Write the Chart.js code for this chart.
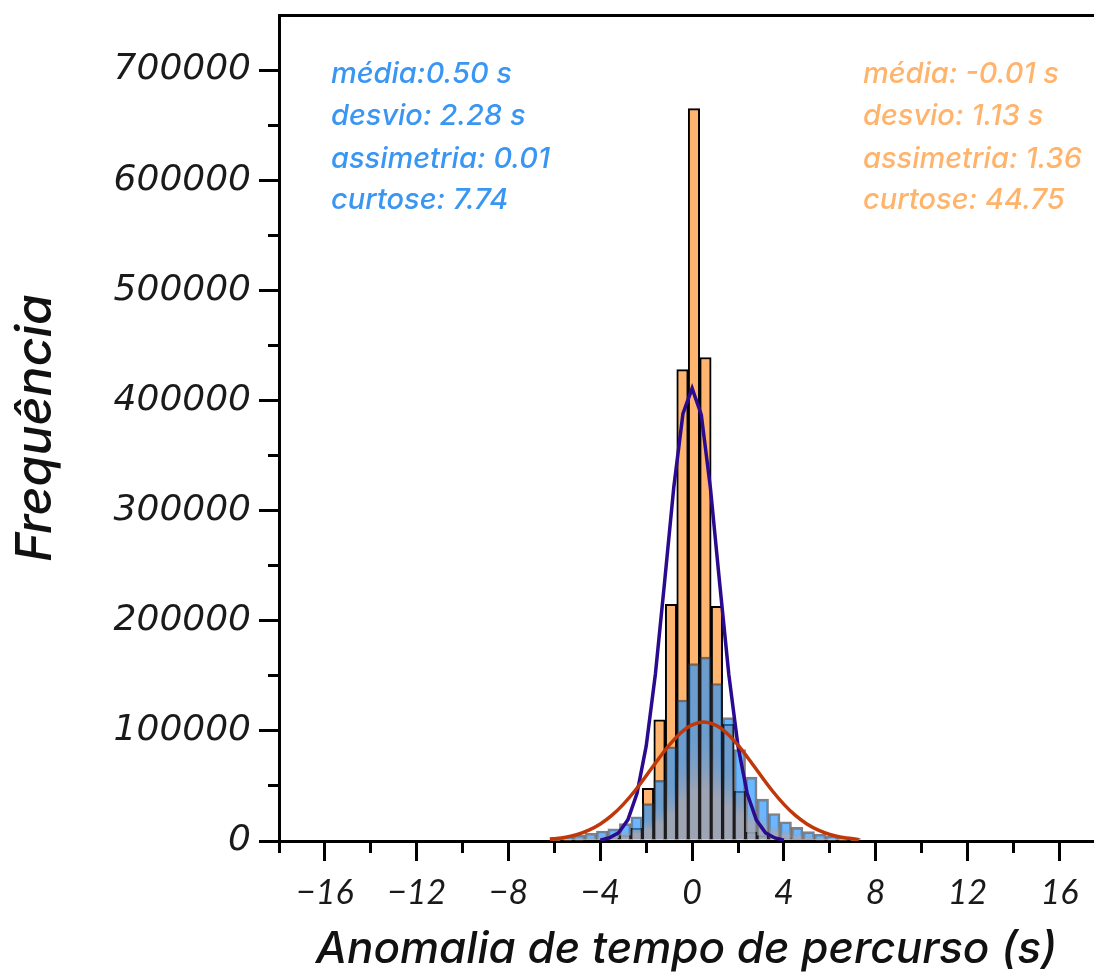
<!DOCTYPE html>
<html lang="pt">
<head>
  <meta charset="UTF-8" />
  <title>Anomalia de tempo de percurso</title>
  <script src="https://cdn.jsdelivr.net/npm/chart.js"></script>
  <style>
    html, body { margin: 0; padding: 0; background: #fff; }
    #wrap { width: 1094px; height: 976px; }
  </style>
</head>
<body>
  <div id="wrap">
    <canvas id="histChart" width="1094" height="976"></canvas>
  </div>

  <script>
    // bin centres (s), bins are 0.5 s wide
    const binCenters = [-5.92, -5.42, -4.92, -4.42, -3.92, -3.42, -2.92, -2.42, -1.92, -1.42,
      -0.92, -0.42, 0.08, 0.58, 1.08, 1.58, 2.08, 2.58, 3.08, 3.58,
      4.08, 4.58, 5.08, 5.58, 6.08, 6.58, 7.08];

    // blue histogram counts
    const blueCounts = [3400, 3900, 5400, 7000, 9100, 11000, 15800, 22000, 34000, 55000,
      85600, 128000, 161000, 167000, 143000, 112000, 83000, 58000, 38000, 25000,
      17500, 12400, 8500, 6300, 4500, 3300, 2400];

    // orange histogram counts
    const orangeCounts = [300, 400, 600, 900, 1500, 2500, 5000, 11500, 47800, 110000,
      215000, 428000, 665000, 439000, 213000, 106000, 45000, 8000, 5000, 3000,
      2000, 1500, 1000, 700, 500, 400, 300];

    // red curve (fit of blue histogram)
    const redX = [-6.2, -5.5, -5, -4.5, -4, -3.5, -3, -2.5, -2, -1.5, -1, -0.5, 0, 0.5,
      1, 1.5, 2, 2.5, 3, 3.5, 4, 4.5, 5, 5.5, 6, 6.5, 7.25];
    const redY = [1500, 3400, 5900, 9800, 15400, 23200, 33300, 45400, 59200, 73500, 87000, 98100, 105400, 108000,
      105400, 98100, 87000, 73500, 59200, 45400, 33300, 23200, 15400, 9800, 5900, 3400, 1400];

    // purple curve (fit of orange histogram)
    const purpleX = [-4, -3.6, -3.2, -2.8, -2.4, -2, -1.6, -1.2, -0.8, -0.4, 0,
      0.4, 0.8, 1.2, 1.6, 2, 2.4, 2.8, 3.2, 3.6, 4];
    const purpleY = [800, 2900, 7500, 19200, 43300, 86300, 151600, 235000, 321000, 388000, 411000,
      387000, 320000, 234000, 151000, 86000, 43000, 19000, 7400, 2800, 800];

    const blueStats = ["média:0.50 s", "desvio: 2.28 s", "assimetria: 0.01", "curtose: 7.74"];
    const orangeStats = ["média: -0.01 s", "desvio: 1.13 s", "assimetria: 1.36", "curtose: 44.75"];

    const BLUE_FILL = "rgba(30, 144, 255, 0.65)";
    const GRAY_FILL = "rgba(150, 163, 185, 0.93)";

    function blueGradient(ctx) {
      const chart = ctx.chart;
      if (ctx.type !== "data" || !chart.chartArea || !ctx.parsed) return BLUE_FILL;
      const y = chart.scales.y;
      const top = y.getPixelForValue(ctx.parsed.y);
      const base = y.getPixelForValue(0);
      if (base - top < 2) return BLUE_FILL;
      const g = chart.ctx.createLinearGradient(0, top, 0, base);
      g.addColorStop(0, BLUE_FILL);
      g.addColorStop(0.4, BLUE_FILL);
      g.addColorStop(0.72, GRAY_FILL);
      g.addColorStop(1, GRAY_FILL);
      return g;
    }

    function fmtX(v) {
      if (v % 4 !== 0) return "";
      return v < 0 ? "\u2212" + Math.abs(v) : String(v);
    }

    const statsText = {
      id: "statsText",
      afterDraw(chart) {
        const ctx = chart.ctx;
        const rows = [74, 116, 159, 200];
        ctx.save();
        ctx.font = "italic 500 29px Inter";
        ctx.textBaseline = "middle";
        ctx.textAlign = "left";
        ctx.fillStyle = "#3a96f3";
        blueStats.forEach((t, i) => ctx.fillText(t, 331, rows[i]));
        ctx.fillStyle = "#ffb36b";
        orangeStats.forEach((t, i) => ctx.fillText(t, 863, rows[i]));
        ctx.restore();
      }
    };

    Chart.defaults.font.family = "Lato";

    new Chart(document.getElementById("histChart"), {
      type: "bar",
      data: {
        datasets: [
          {
            type: "line",
            data: redX.map((x, i) => ({ x, y: redY[i] })),
            borderColor: "#c0380a",
            borderWidth: 3.5,
            pointRadius: 0,
            tension: 0.3,
            order: 0
          },
          {
            type: "line",
            data: purpleX.map((x, i) => ({ x, y: purpleY[i] })),
            borderColor: "#2a0a8f",
            borderWidth: 3.5,
            pointRadius: 0,
            tension: 0,
            order: 1
          },
          {
            data: binCenters.map((x, i) => ({ x, y: blueCounts[i] })),
            backgroundColor: blueGradient,
            borderColor: "rgba(45, 45, 50, 0.6)",
            borderWidth: 2,
            grouped: false,
            barPercentage: 1,
            categoryPercentage: 1,
            order: 2
          },
          {
            data: binCenters.map((x, i) => ({ x, y: orangeCounts[i] })),
            backgroundColor: "#ffb56f",
            borderColor: "#000",
            borderWidth: 2,
            grouped: false,
            barPercentage: 1,
            categoryPercentage: 1,
            order: 3
          }
        ]
      },
      options: {
        responsive: false,
        animation: false,
        layout: { padding: { top: 15, left: 0, right: 0, bottom: 0 } },
        plugins: { legend: { display: false }, tooltip: { enabled: false } },
        scales: {
          x: {
            type: "linear",
            min: -18,
            max: 17.51,
            offset: false,
            ticks: {
              stepSize: 2,
              includeBounds: false,
              autoSkip: false,
              maxRotation: 0,
              callback: fmtX,
              font: { family: "Lato", style: "italic", size: 34 },
              color: "#1a1a1a",
              padding: 12
            },
            grid: {
              offset: false,
              drawOnChartArea: false,
              tickLength: 20,
              tickWidth: 3,
              tickColor: "#000",
              tickBorderDash: ctx => (ctx.tick && ctx.tick.value % 4 !== 0 ? [10, 40] : [])
            },
            border: { color: "#000", width: 3 },
            title: {
              display: true,
              text: "Anomalia de tempo de percurso (s)",
              font: { family: "Inter", style: "italic", weight: 500, size: 44 },
              color: "#111",
              padding: 0
            },
            afterFit: s => { s.height = 135; }
          },
          y: {
            min: 0,
            max: 750000,
            ticks: {
              stepSize: 50000,
              callback: v => (v % 100000 === 0 ? String(v) : ""),
              font: { family: "DejaVu Sans", style: "italic", size: 36 },
              color: "#1a1a1a",
              padding: 8
            },
            grid: {
              lineWidth: 3,
              color: ctx => (ctx.tick && ctx.tick.value === 750000 ? "#000" : "rgba(0,0,0,0)"),
              tickLength: 20,
              tickWidth: 3,
              tickColor: ctx => (ctx.tick && ctx.tick.value === 750000 ? "rgba(0,0,0,0)" : "#000"),
              // minor ticks: skip the outer part so only the half next to the axis shows
              tickBorderDash: ctx => (ctx.tick && ctx.tick.value % 100000 !== 0 ? [0, 9, 12, 50] : [])
            },
            border: { color: "#000", width: 3 },
            title: {
              display: true,
              text: "Frequência",
              font: { family: "Inter", style: "italic", weight: 500, size: 50 },
              color: "#111",
              padding: { top: 6, bottom: 0 }
            },
            afterFit: s => {
              s.width = 279;
              s.paddingTop = 0;
              s.paddingBottom = 0;
            }
          }
        }
      },
      plugins: [statsText]
    });
  </script>
</body>
</html>
